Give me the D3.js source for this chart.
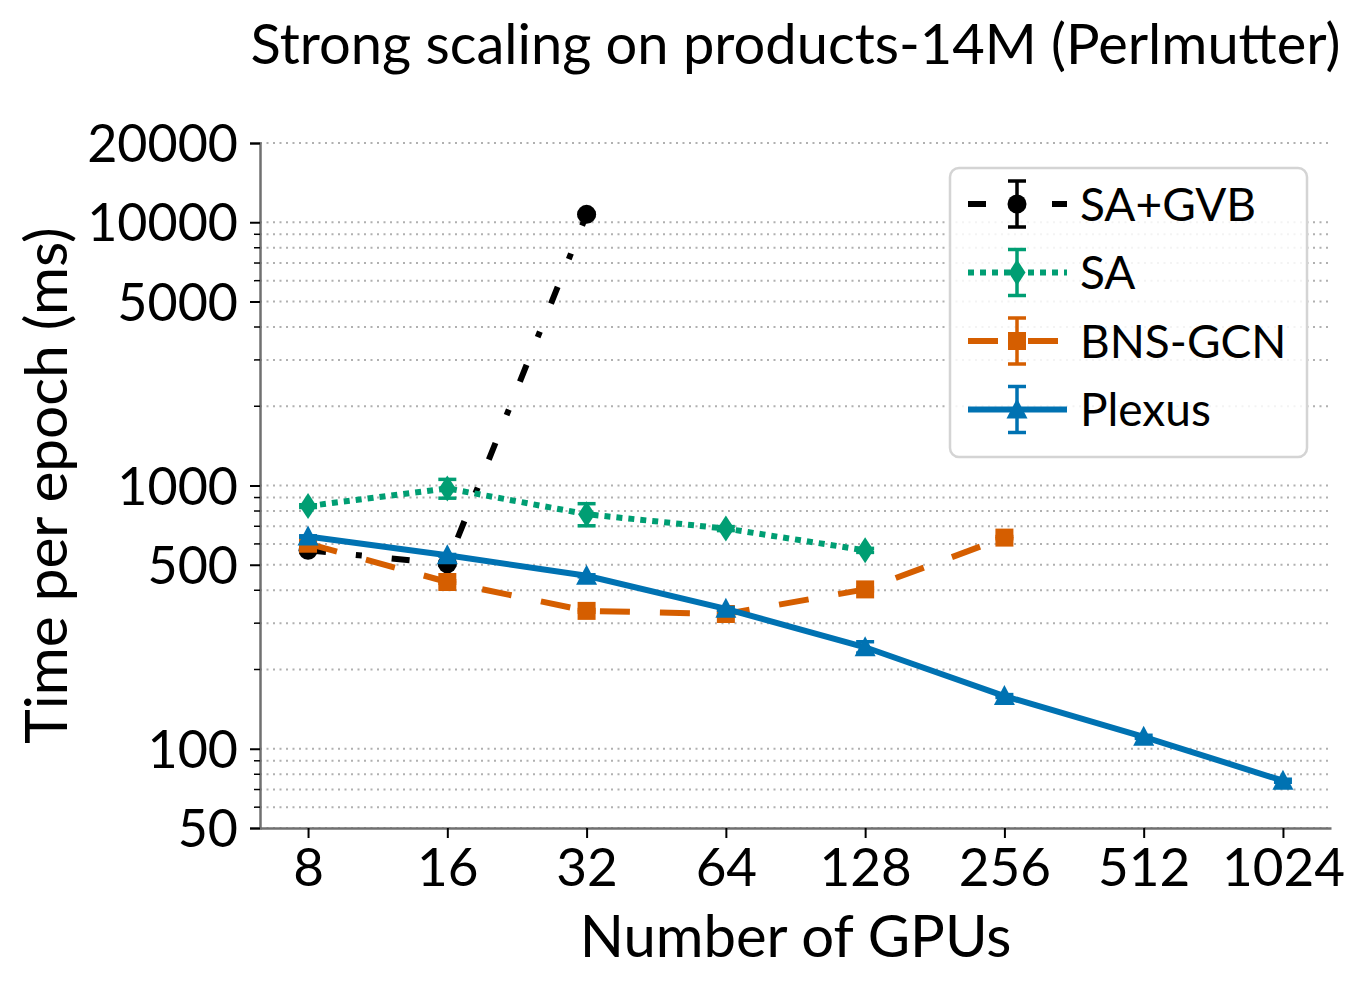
<!DOCTYPE html>
<meta charset="utf-8">
<html>
<head>
<script src="https://d3js.org/d3.v7.min.js"></script>
<style>
  body { margin: 0; background: #fff; }
  text { font-family: Lato, "Open Sans", sans-serif; fill: #000; }
</style>
</head>
<body>
<div id="my_dataviz"></div>
<script>
// data
const gpus = [8, 16, 32, 64, 128, 256, 512, 1024];
const yTickValues = [50, 100, 500, 1000, 5000, 10000, 20000];

const saGvbTime = [567, 504, 10715];
const saGvbErr = [6, 6, 120];
const saTime = [835, 975, 778, 686, 567];
const saErr = [10, 80, 75, 12, 10];
const bnsTime = [601, 430, 334, 325, 403, 634];
const bnsErr = [5, 5, 4, 4, 5, 6];
const plexusTime = [640, 543, 454, 340, 243, 158.6, 111, 75.6];
const plexusErr = [4, 4, 4, 4, 12, 2, 1.5, 1];

const series = [
  {name: "SA+GVB", time: saGvbTime, err: saGvbErr, color: "#000000", dash: "18,30,6,30", marker: "circle"},
  {name: "SA", time: saTime, err: saErr, color: "#009e73", dash: "6,6", marker: "diamond"},
  {name: "BNS-GCN", time: bnsTime, err: bnsErr, color: "#d55e00", dash: "30,30", marker: "square"},
  {name: "Plexus", time: plexusTime, err: plexusErr, color: "#0072b2", dash: null, marker: "triangle"}
];

const W = 1365, H = 993;
const margin = {top: 143, right: 34, bottom: 165, left: 260};
const width = W - margin.left - margin.right,
      height = H - margin.top - margin.bottom;

const svg = d3.select("#my_dataviz")
  .append("svg")
    .attr("width", W)
    .attr("height", H);

const g = svg.append("g")
    .attr("transform", `translate(${margin.left},${margin.top})`);

const x = d3.scalePoint()
  .domain(gpus)
  .range([0, width])
  .padding(0.345);

const y = d3.scaleLog()
  .domain([50, 20000])
  .range([height, 0]);

// minor ticks for the log axis
const minorTicks = [];
[10, 100, 1000].forEach(base => {
  for (let k = 2; k <= 9; k++) {
    const v = k * base;
    if (v > 50 && v < 20000 && !yTickValues.includes(v)) minorTicks.push(v);
  }
});

// grid lines (dotted, major and minor)
g.append("g")
  .selectAll("line")
  .data(yTickValues.concat(minorTicks))
  .join("line")
    .attr("x1", 0)
    .attr("x2", width)
    .attr("y1", d => y(d))
    .attr("y2", d => y(d))
    .attr("stroke", "#b0b0b0")
    .attr("stroke-width", 2)
    .attr("stroke-dasharray", "2,4.5");

// y axis
const yAxis = g.append("g")
  .call(d3.axisLeft(y).tickValues(yTickValues).tickFormat(d3.format("d")).tickSize(10).tickPadding(12));
yAxis.selectAll("text").style("font-size", "52px").attr("dy", "0.36em");
yAxis.select(".domain").attr("stroke", "#707070").attr("stroke-width", 2.5);
yAxis.selectAll(".tick line").attr("stroke", "#000").attr("stroke-width", 2);

g.append("g")
  .selectAll("line")
  .data(minorTicks)
  .join("line")
    .attr("x1", -6)
    .attr("x2", 0)
    .attr("y1", d => y(d))
    .attr("y2", d => y(d))
    .attr("stroke", "#000")
    .attr("stroke-width", 1.5);

// x axis
const xAxis = g.append("g")
  .attr("transform", `translate(0,${height})`)
  .call(d3.axisBottom(x).tickSize(10).tickPadding(10).tickSizeOuter(0));
xAxis.selectAll("text").style("font-size", "53px").attr("dy", "0.72em");
xAxis.select(".domain").attr("stroke", "#707070").attr("stroke-width", 2.5);
xAxis.selectAll(".tick line").attr("stroke", "#000").attr("stroke-width", 2);

// marker shapes
function markerPath(type) {
  if (type === "circle") return d3.symbol(d3.symbolCircle, Math.PI * 9.5 * 9.5)();
  if (type === "square") return "M-9,-9H9V9H-9Z";
  if (type === "triangle") return "M0,-11L10.5,9L-10.5,9Z";
  if (type === "diamond") return "M0,-13L8.5,0L0,13L-8.5,0Z";
}

const line = d3.line()
  .x(d => x(d.gpu))
  .y(d => y(d.t));

series.forEach(s => {
  const pts = s.time.map((t, i) => ({gpu: gpus[i], t: t, e: s.err[i]}));
  const sg = g.append("g");
  sg.append("path")
    .datum(pts)
    .attr("fill", "none")
    .attr("stroke", s.color)
    .attr("stroke-width", 6)
    .attr("stroke-dasharray", s.dash)
    .attr("d", line);
  // error bars
  const eb = sg.append("g")
    .selectAll("g")
    .data(pts)
    .join("g")
      .attr("stroke", s.color)
      .attr("stroke-width", 3.5);
  eb.append("line")
    .attr("x1", d => x(d.gpu)).attr("x2", d => x(d.gpu))
    .attr("y1", d => y(d.t - d.e)).attr("y2", d => y(d.t + d.e));
  eb.append("line")
    .attr("x1", d => x(d.gpu) - 9).attr("x2", d => x(d.gpu) + 9)
    .attr("y1", d => y(d.t + d.e)).attr("y2", d => y(d.t + d.e));
  eb.append("line")
    .attr("x1", d => x(d.gpu) - 9).attr("x2", d => x(d.gpu) + 9)
    .attr("y1", d => y(d.t - d.e)).attr("y2", d => y(d.t - d.e));
  sg.append("g")
    .selectAll("path")
    .data(pts)
    .join("path")
      .attr("d", markerPath(s.marker))
      .attr("transform", d => `translate(${x(d.gpu)},${y(d.t)})`)
      .attr("fill", s.color);
});

// title and axis labels
svg.append("text")
  .attr("x", margin.left + width / 2)
  .attr("y", 64)
  .attr("text-anchor", "middle")
  .style("font-size", "56px")
  .text("Strong scaling on products-14M (Perlmutter)");

svg.append("text")
  .attr("x", margin.left + width / 2)
  .attr("y", 957)
  .attr("text-anchor", "middle")
  .style("font-size", "58px")
  .text("Number of GPUs");

svg.append("text")
  .attr("transform", `translate(67,${margin.top + height / 2}) rotate(-90)`)
  .attr("text-anchor", "middle")
  .style("font-size", "58.5px")
  .text("Time per epoch (ms)");

// legend
const legend = svg.append("g").attr("transform", "translate(950,168)");
legend.append("rect")
  .attr("width", 357)
  .attr("height", 289)
  .attr("rx", 9)
  .attr("fill", "#fff")
  .attr("fill-opacity", 0.85)
  .attr("stroke", "#d4d4d4")
  .attr("stroke-width", 2.5);

series.forEach((s, i) => {
  const ly = 36 + i * 68.5;
  const row = legend.append("g").attr("transform", `translate(0,${ly})`);
  row.append("line")
    .attr("x1", 18).attr("x2", 117)
    .attr("y1", 0).attr("y2", 0)
    .attr("stroke", s.color)
    .attr("stroke-width", 6)
    .attr("stroke-dasharray", s.dash);
  row.append("line")
    .attr("x1", 67).attr("x2", 67).attr("y1", -23).attr("y2", 23)
    .attr("stroke", s.color).attr("stroke-width", 3.5);
  [-23, 23].forEach(cy => {
    row.append("line")
      .attr("x1", 58).attr("x2", 76).attr("y1", cy).attr("y2", cy)
      .attr("stroke", s.color).attr("stroke-width", 3.5);
  });
  row.append("path")
    .attr("d", markerPath(s.marker))
    .attr("transform", "translate(67,0)")
    .attr("fill", s.color);
  row.append("text")
    .attr("x", 130)
    .attr("y", 0)
    .attr("dy", "0.36em")
    .style("font-size", "46px")
    .text(s.name);
});
</script>
</body>
</html>
